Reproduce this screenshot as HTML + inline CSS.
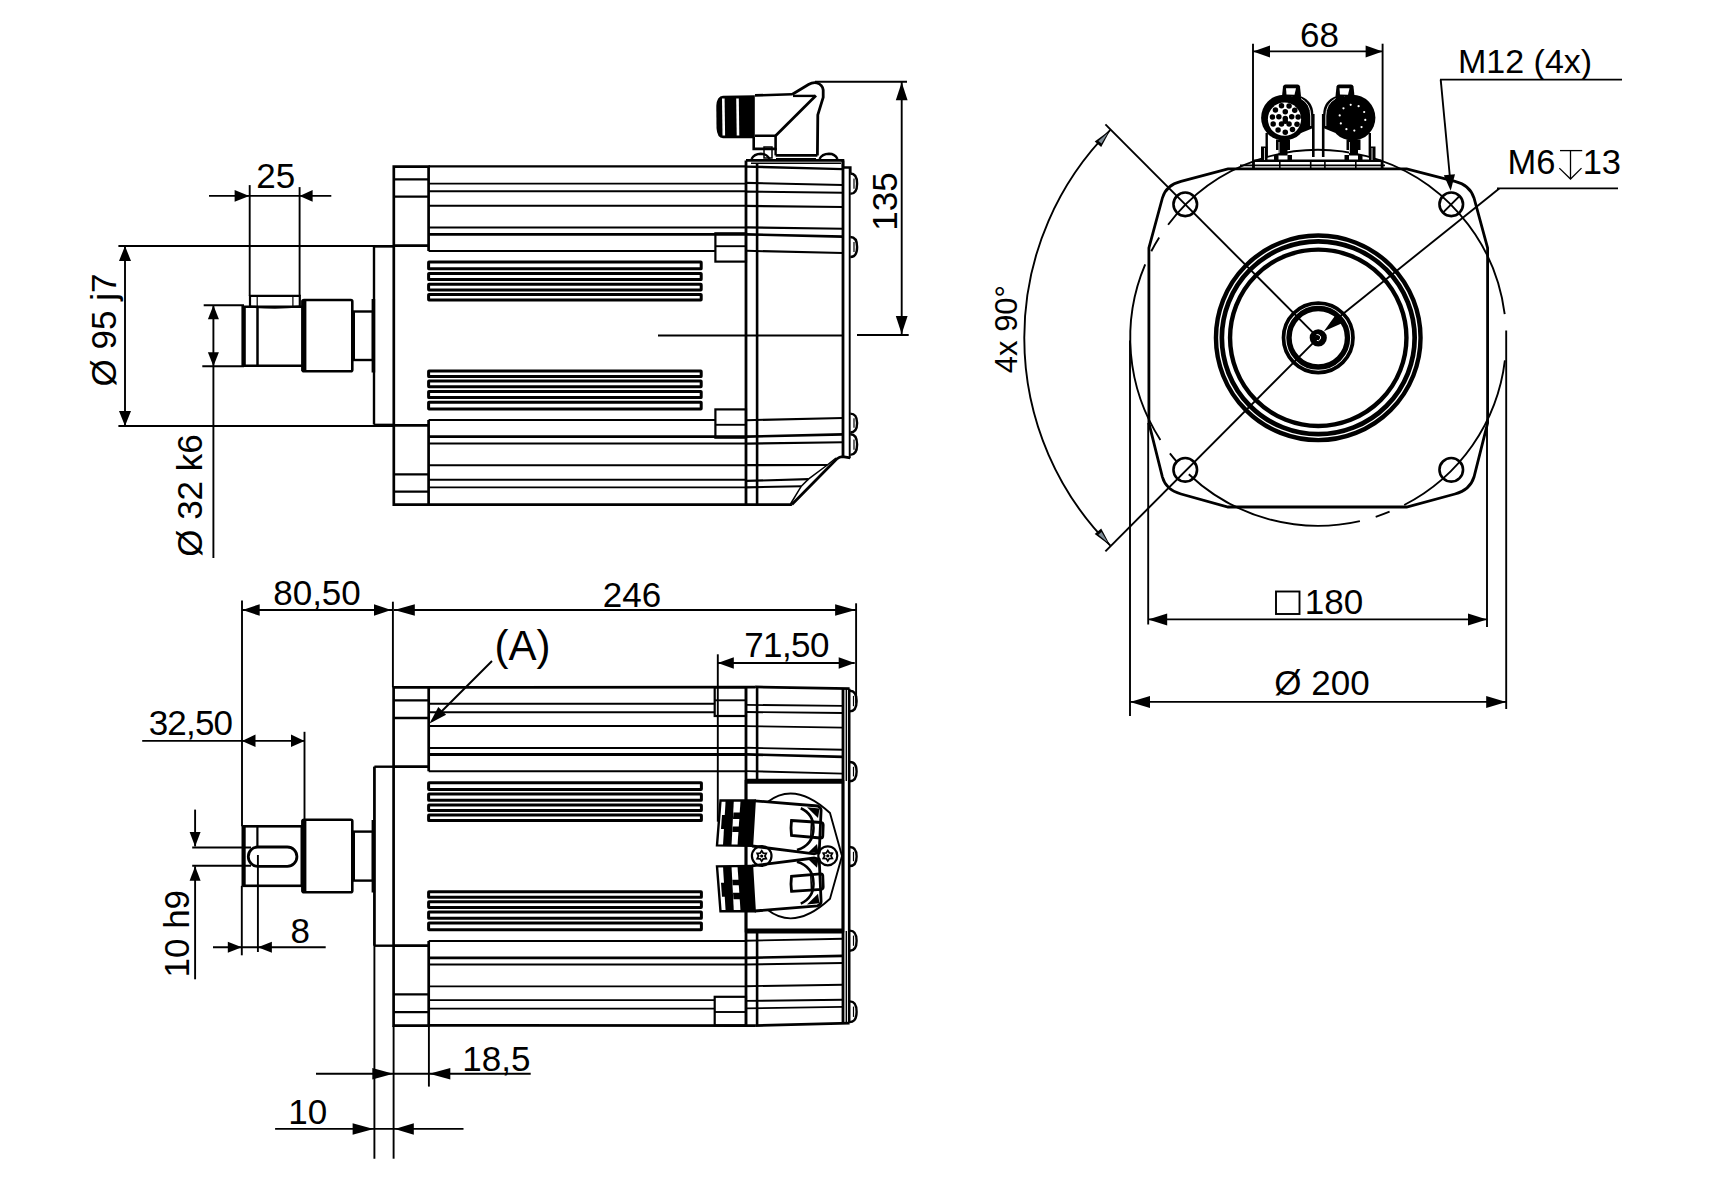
<!DOCTYPE html>
<html><head><meta charset="utf-8"><style>
html,body{margin:0;padding:0;background:#fff;width:1717px;height:1187px;overflow:hidden}
svg{display:block}
text{font-family:"Liberation Sans",sans-serif;fill:#000;stroke:none}
</style></head><body>
<svg width="1717" height="1187" viewBox="0 0 1717 1187" stroke="#000" fill="none" stroke-linecap="butt">
<polyline points="428.6,251.0 428.6,166.6 393.8,166.6 393.8,504.6 428.6,504.6 428.6,420.0" stroke-width="2.7" fill="none" />
<line x1="393.8" y1="179.3" x2="428.6" y2="179.3" stroke-width="2.3"/>
<line x1="393.8" y1="491.7" x2="428.6" y2="491.7" stroke-width="2.3"/>
<line x1="393.8" y1="196.7" x2="428.6" y2="196.7" stroke-width="2.3"/>
<line x1="393.8" y1="474.3" x2="428.6" y2="474.3" stroke-width="2.3"/>
<line x1="393.8" y1="245.6" x2="428.6" y2="245.6" stroke-width="2.8"/>
<line x1="393.8" y1="425.4" x2="428.6" y2="425.4" stroke-width="2.8"/>
<line x1="428.6" y1="166.4" x2="746.0" y2="166.4" stroke-width="2.4"/>
<line x1="428.6" y1="183.6" x2="746.0" y2="183.6" stroke-width="1.9"/>
<line x1="428.6" y1="487.4" x2="746.0" y2="487.4" stroke-width="1.9"/>
<line x1="428.6" y1="191.2" x2="746.0" y2="191.2" stroke-width="1.9"/>
<line x1="428.6" y1="479.8" x2="746.0" y2="479.8" stroke-width="1.9"/>
<line x1="428.6" y1="205.8" x2="746.0" y2="205.8" stroke-width="1.9"/>
<line x1="428.6" y1="465.2" x2="746.0" y2="465.2" stroke-width="1.9"/>
<line x1="428.6" y1="227.6" x2="746.0" y2="227.6" stroke-width="2.0"/>
<line x1="428.6" y1="443.4" x2="746.0" y2="443.4" stroke-width="2.0"/>
<line x1="428.6" y1="234.3" x2="746.0" y2="234.3" stroke-width="2.8"/>
<line x1="428.6" y1="436.7" x2="746.0" y2="436.7" stroke-width="2.8"/>
<line x1="428.6" y1="251.0" x2="715.4" y2="251.0" stroke-width="2.0"/>
<line x1="428.6" y1="420.0" x2="715.4" y2="420.0" stroke-width="2.0"/>
<line x1="428.6" y1="504.6" x2="791.9" y2="504.6" stroke-width="2.7"/>
<rect x="428.6" y="262.0" width="272.6" height="6.8" rx="0.4" stroke-width="3.0" fill="none" />
<rect x="428.6" y="402.2" width="272.6" height="6.8" rx="0.4" stroke-width="3.0" fill="none" />
<rect x="428.6" y="273.4" width="272.6" height="6.2" rx="0.4" stroke-width="3.0" fill="none" />
<rect x="428.6" y="391.4" width="272.6" height="6.2" rx="0.4" stroke-width="3.0" fill="none" />
<rect x="428.6" y="284.3" width="272.6" height="5.6" rx="0.4" stroke-width="3.0" fill="none" />
<rect x="428.6" y="381.1" width="272.6" height="5.6" rx="0.4" stroke-width="3.0" fill="none" />
<rect x="428.6" y="294.4" width="272.6" height="5.5" rx="0.4" stroke-width="3.0" fill="none" />
<rect x="428.6" y="371.1" width="272.6" height="5.5" rx="0.4" stroke-width="3.0" fill="none" />
<rect x="715.4" y="233.3" width="30.6" height="28.3" rx="0" stroke-width="2.2" fill="none" />
<line x1="715.4" y1="246.2" x2="746.0" y2="246.2" stroke-width="1.9"/>
<rect x="715.4" y="409.4" width="30.6" height="28.3" rx="0" stroke-width="2.2" fill="none" />
<line x1="715.4" y1="424.8" x2="746.0" y2="424.8" stroke-width="1.9"/>
<line x1="658.0" y1="335.5" x2="842.0" y2="335.5" stroke-width="1.9"/>
<line x1="746.0" y1="160.4" x2="746.0" y2="504.6" stroke-width="2.8"/>
<line x1="757.1" y1="163.0" x2="757.1" y2="504.6" stroke-width="2.6"/>
<line x1="843.0" y1="160.4" x2="843.0" y2="458.0" stroke-width="2.8"/>
<line x1="849.7" y1="167.5" x2="849.7" y2="458.0" stroke-width="1.9"/>
<polyline points="746.0,160.4 843.0,160.4 843.0,167.5 850.3,167.5 850.3,173.0" stroke-width="2.6" fill="none" />
<line x1="751.0" y1="163.3" x2="841.0" y2="163.3" stroke-width="1.4"/>
<line x1="746.0" y1="166.6" x2="843.0" y2="169.1" stroke-width="2.4"/>
<line x1="746.0" y1="182.9" x2="843.0" y2="185.0" stroke-width="2.1"/>
<line x1="746.0" y1="191.6" x2="843.0" y2="192.7" stroke-width="2.1"/>
<line x1="746.0" y1="205.9" x2="843.0" y2="207.0" stroke-width="2.1"/>
<line x1="746.0" y1="227.4" x2="843.0" y2="228.8" stroke-width="2.1"/>
<line x1="746.0" y1="234.4" x2="843.0" y2="236.6" stroke-width="2.6"/>
<line x1="746.0" y1="250.8" x2="843.0" y2="253.0" stroke-width="2.1"/>
<line x1="746.0" y1="420.2" x2="843.0" y2="418.0" stroke-width="2.1"/>
<line x1="746.0" y1="436.6" x2="843.0" y2="434.4" stroke-width="2.6"/>
<line x1="746.0" y1="443.6" x2="843.0" y2="442.2" stroke-width="2.1"/>
<line x1="746.0" y1="465.1" x2="827.3" y2="465.0" stroke-width="2.1"/>
<line x1="746.0" y1="480.9" x2="808.4" y2="479.1" stroke-width="2.1"/>
<line x1="746.0" y1="487.4" x2="801.3" y2="486.2" stroke-width="2.1"/>
<path d="M791.9,504.6 L836.7,459 Q839.5,456.7 842.6,456.7 L850.3,457.9" stroke-width="2.8" fill="none" />
<polyline points="790.5,504.0 801.3,486.2 808.4,479.1 827.3,465.0 836.0,458.0" stroke-width="1.5" fill="none" />
<path d="M850.3,173.5 C855.4,173.5 857.0999999999999,177.56 857.0999999999999,183.65 C857.0999999999999,189.74 855.4,193.8 850.3,193.8" stroke-width="2.4" fill="none" />
<line x1="854.0" y1="178.6" x2="854.0" y2="188.7" stroke-width="1.2"/>
<path d="M850.3,237 C855.4,237 857.0999999999999,241.0 857.0999999999999,247.0 C857.0999999999999,253.0 855.4,257 850.3,257" stroke-width="2.4" fill="none" />
<line x1="854.0" y1="242.0" x2="854.0" y2="252.0" stroke-width="1.2"/>
<path d="M850.3,413.6 C855.4,413.6 857.0999999999999,417.38 857.0999999999999,423.05 C857.0999999999999,428.72 855.4,432.5 850.3,432.5" stroke-width="2.4" fill="none" />
<line x1="854.0" y1="418.3" x2="854.0" y2="427.8" stroke-width="1.2"/>
<path d="M850.3,434.3 C855.4,434.3 857.0999999999999,438.42 857.0999999999999,444.6 C857.0999999999999,450.78 855.4,454.9 850.3,454.9" stroke-width="2.4" fill="none" />
<line x1="854.0" y1="439.4" x2="854.0" y2="449.8" stroke-width="1.2"/>
<path d="M723,95.7 L754.8,95.2 L754.8,138.2 L723,138.2 Q717,138 716.5,128 L716.3,106 Q716.8,95.9 723,95.7 Z" stroke-width="0" fill="#000" />
<line x1="723.3" y1="98.5" x2="723.8" y2="135.5" stroke="#fff" stroke-width="2.6"/>
<line x1="737.5" y1="98.5" x2="738" y2="135.5" stroke="#fff" stroke-width="2.6"/>
<line x1="755.0" y1="95.4" x2="792.0" y2="94.3" stroke-width="2.6"/>
<path d="M792,94.5 L808.5,84.5 Q813,82 817,83 Q822.5,84.6 823.2,90 L823.2,97.4 L817.8,114.9 L817.4,155.4" stroke-width="2.8" fill="none" />
<line x1="793.0" y1="95.9" x2="815.0" y2="95.9" stroke-width="2.4"/>
<line x1="816.0" y1="95.5" x2="775.6" y2="135.7" stroke-width="2.8"/>
<polyline points="754.8,135.7 775.6,135.7 775.6,148.9 753.7,148.9 753.7,137.0" stroke-width="2.6" fill="none" />
<line x1="775.6" y1="148.0" x2="775.6" y2="155.4" stroke-width="2.4"/>
<line x1="775.6" y1="155.4" x2="817.4" y2="155.4" stroke-width="2.6"/>
<line x1="776.0" y1="158.7" x2="816.0" y2="158.7" stroke-width="1.5"/>
<path d="M751.5,159 Q754,154 761,153.8 Q767,153.8 769.5,159" stroke-width="2.4" fill="none" />
<path d="M819.5,159 Q822,154 829,153.8 Q835,153.8 837.5,159" stroke-width="2.4" fill="none" />
<rect x="764.0" y="147.0" width="8.0" height="11.0" rx="0" stroke-width="1.5" fill="none" />
<line x1="374.0" y1="246.7" x2="374.0" y2="424.6" stroke-width="2.4"/>
<line x1="373.4" y1="299.0" x2="373.4" y2="372.5" stroke-width="3.6"/>
<line x1="374.0" y1="246.7" x2="393.8" y2="246.7" stroke-width="1.9"/>
<line x1="374.0" y1="424.6" x2="393.8" y2="424.6" stroke-width="1.9"/>
<rect x="353.8" y="311.5" width="19.2" height="48.5" rx="0" stroke-width="2.4" fill="none" />
<rect x="302.5" y="300.0" width="49.8" height="71.3" rx="1.5" stroke-width="2.6" fill="none" />
<line x1="303.9" y1="300.5" x2="303.9" y2="371.0" stroke-width="5"/>
<line x1="243.6" y1="306.8" x2="302.0" y2="306.8" stroke-width="2.4"/>
<line x1="243.6" y1="365.7" x2="302.0" y2="365.7" stroke-width="2.4"/>
<line x1="243.6" y1="306.0" x2="243.6" y2="366.5" stroke-width="4.4"/>
<line x1="257.5" y1="306.8" x2="257.5" y2="365.7" stroke-width="2.5"/>
<polyline points="250.0,306.0 250.0,295.9 299.8,295.9 299.8,306.0" stroke-width="2.2" fill="none" />
<line x1="257.2" y1="295.9" x2="257.2" y2="306.0" stroke-width="1.2"/>
<line x1="292.9" y1="295.9" x2="292.9" y2="306.0" stroke-width="1.2"/>
<path d="M250,306.5 Q275,308.6 299.8,306.5" stroke-width="2.2" fill="none" />
<line x1="209.0" y1="195.9" x2="331.3" y2="195.9" stroke-width="1.9"/>
<polygon points="249.3,195.9 234.6,201.8 234.6,190.0" fill="#000" stroke="none"/>
<polygon points="299.6,195.9 312.6,190.0 312.6,201.8" fill="#000" stroke="none"/>
<line x1="249.7" y1="185.1" x2="249.7" y2="296.0" stroke-width="1.9"/>
<line x1="299.6" y1="187.1" x2="299.6" y2="296.0" stroke-width="1.9"/>
<text x="275.8" y="187.9" font-size="35" text-anchor="middle" >25</text>
<line x1="118.4" y1="246.0" x2="394.0" y2="246.0" stroke-width="1.9"/>
<line x1="118.4" y1="426.0" x2="394.0" y2="426.0" stroke-width="1.9"/>
<line x1="125.0" y1="246.0" x2="125.0" y2="426.0" stroke-width="1.9"/>
<polygon points="125.0,246.0 131.0,261.0 119.0,261.0" fill="#000" stroke="none"/>
<polygon points="125.0,426.0 119.0,411.0 131.0,411.0" fill="#000" stroke="none"/>
<text x="115.5" y="330.0" font-size="35" text-anchor="middle" transform="rotate(-90 115.5 330.0)" >Ø 95 j7</text>
<line x1="203.7" y1="305.3" x2="244.0" y2="305.3" stroke-width="1.9"/>
<line x1="202.3" y1="366.2" x2="244.0" y2="366.2" stroke-width="1.9"/>
<line x1="213.4" y1="305.3" x2="213.4" y2="558.0" stroke-width="1.9"/>
<polygon points="213.4,305.3 218.9,319.3 207.9,319.3" fill="#000" stroke="none"/>
<polygon points="213.4,366.2 207.9,352.2 218.9,352.2" fill="#000" stroke="none"/>
<text x="201.5" y="495.5" font-size="35" text-anchor="middle" transform="rotate(-90 201.5 495.5)" >Ø 32 k6</text>
<line x1="815.0" y1="81.7" x2="907.0" y2="81.7" stroke-width="1.9"/>
<line x1="857.0" y1="335.0" x2="908.7" y2="335.0" stroke-width="1.9"/>
<line x1="901.7" y1="81.5" x2="901.7" y2="335.0" stroke-width="1.9"/>
<polygon points="901.7,82.2 907.6,100.2 895.8,100.2" fill="#000" stroke="none"/>
<polygon points="901.7,334.0 895.8,316.0 907.6,316.0" fill="#000" stroke="none"/>
<text x="896.5" y="201.5" font-size="35" text-anchor="middle" transform="rotate(-90 896.5 201.5)" >135</text>
<polyline points="428.7,771.3 428.7,687.4 393.6,687.4 393.6,1025.6 428.7,1025.6 428.7,941.1" stroke-width="2.7" fill="none" />
<line x1="393.6" y1="700.3" x2="428.7" y2="700.3" stroke-width="2.3"/>
<line x1="393.6" y1="1012.1" x2="428.7" y2="1012.1" stroke-width="2.3"/>
<line x1="393.6" y1="718.0" x2="428.7" y2="718.0" stroke-width="2.3"/>
<line x1="393.6" y1="994.4" x2="428.7" y2="994.4" stroke-width="2.3"/>
<line x1="393.6" y1="766.7" x2="428.7" y2="766.7" stroke-width="2.8"/>
<line x1="393.6" y1="945.7" x2="428.7" y2="945.7" stroke-width="2.8"/>
<line x1="428.7" y1="687.4" x2="755.1" y2="687.2" stroke-width="2.7"/>
<line x1="755.1" y1="686.9" x2="849.6" y2="688.7" stroke-width="2.7"/>
<line x1="428.7" y1="1025.4" x2="755.1" y2="1025.6" stroke-width="2.7"/>
<line x1="755.1" y1="1025.6" x2="849.6" y2="1023.1" stroke-width="2.7"/>
<line x1="428.7" y1="703.8" x2="714.7" y2="703.8" stroke-width="1.9"/>
<line x1="428.7" y1="1008.6" x2="714.7" y2="1008.6" stroke-width="1.9"/>
<line x1="428.7" y1="712.3" x2="714.7" y2="712.3" stroke-width="1.9"/>
<line x1="428.7" y1="1000.1" x2="714.7" y2="1000.1" stroke-width="1.9"/>
<line x1="428.7" y1="726.0" x2="746.0" y2="726.0" stroke-width="1.9"/>
<line x1="428.7" y1="986.4" x2="746.0" y2="986.4" stroke-width="1.9"/>
<line x1="428.7" y1="748.0" x2="746.0" y2="748.0" stroke-width="2.0"/>
<line x1="428.7" y1="964.4" x2="746.0" y2="964.4" stroke-width="2.0"/>
<line x1="428.7" y1="754.5" x2="746.0" y2="754.5" stroke-width="2.8"/>
<line x1="428.7" y1="957.9" x2="746.0" y2="957.9" stroke-width="2.8"/>
<line x1="428.7" y1="771.3" x2="746.0" y2="771.3" stroke-width="2.0"/>
<line x1="428.7" y1="941.1" x2="746.0" y2="941.1" stroke-width="2.0"/>
<rect x="428.6" y="782.7" width="272.8" height="6.8" rx="0.4" stroke-width="3.0" fill="none" />
<rect x="428.6" y="922.9" width="272.8" height="6.8" rx="0.4" stroke-width="3.0" fill="none" />
<rect x="428.6" y="794.1" width="272.8" height="6.2" rx="0.4" stroke-width="3.0" fill="none" />
<rect x="428.6" y="912.1" width="272.8" height="6.2" rx="0.4" stroke-width="3.0" fill="none" />
<rect x="428.6" y="805.0" width="272.8" height="5.6" rx="0.4" stroke-width="3.0" fill="none" />
<rect x="428.6" y="901.8" width="272.8" height="5.6" rx="0.4" stroke-width="3.0" fill="none" />
<rect x="428.6" y="815.1" width="272.8" height="5.5" rx="0.4" stroke-width="3.0" fill="none" />
<rect x="428.6" y="891.8" width="272.8" height="5.5" rx="0.4" stroke-width="3.0" fill="none" />
<rect x="714.7" y="687.4" width="31.3" height="28.6" rx="0" stroke-width="2.2" fill="none" />
<line x1="714.7" y1="700.3" x2="746.0" y2="700.3" stroke-width="1.9"/>
<rect x="714.7" y="996.8" width="31.3" height="28.6" rx="0" stroke-width="2.2" fill="none" />
<line x1="714.7" y1="1012.0" x2="746.0" y2="1012.0" stroke-width="1.9"/>
<line x1="746.0" y1="687.0" x2="746.0" y2="1025.6" stroke-width="2.8"/>
<line x1="757.1" y1="687.0" x2="757.1" y2="781.0" stroke-width="2.6"/>
<line x1="757.1" y1="931.0" x2="757.1" y2="1025.6" stroke-width="2.6"/>
<line x1="843.0" y1="688.5" x2="843.0" y2="1023.3" stroke-width="2.8"/>
<line x1="846.3" y1="688.5" x2="846.3" y2="781.0" stroke-width="1.4"/>
<line x1="846.3" y1="931.0" x2="846.3" y2="1023.3" stroke-width="1.4"/>
<line x1="849.2" y1="688.7" x2="849.2" y2="1023.0" stroke-width="2.6"/>
<line x1="746.0" y1="704.9" x2="843.0" y2="705.9" stroke-width="1.9"/>
<line x1="746.0" y1="712.0" x2="843.0" y2="713.0" stroke-width="1.9"/>
<line x1="746.0" y1="726.1" x2="843.0" y2="727.6" stroke-width="1.9"/>
<line x1="746.0" y1="747.8" x2="843.0" y2="749.8" stroke-width="1.9"/>
<line x1="746.0" y1="754.4" x2="843.0" y2="756.9" stroke-width="2.6"/>
<line x1="746.0" y1="771.1" x2="843.0" y2="773.6" stroke-width="1.9"/>
<line x1="746.0" y1="940.7" x2="843.0" y2="938.7" stroke-width="1.9"/>
<line x1="746.0" y1="957.9" x2="843.0" y2="955.9" stroke-width="2.6"/>
<line x1="746.0" y1="964.5" x2="843.0" y2="963.0" stroke-width="1.9"/>
<line x1="746.0" y1="986.2" x2="843.0" y2="984.7" stroke-width="1.9"/>
<line x1="746.0" y1="1000.9" x2="843.0" y2="999.8" stroke-width="1.9"/>
<line x1="746.0" y1="1008.4" x2="843.0" y2="1006.9" stroke-width="1.9"/>
<rect x="746.0" y="781.2" width="97.0" height="149.9" rx="0" stroke-width="2.6" fill="none" />
<line x1="746.0" y1="781.2" x2="843.0" y2="781.2" stroke-width="5"/>
<line x1="746.0" y1="931.1" x2="843.0" y2="931.1" stroke-width="5"/>
<path d="M849.8,690.7 C854.9,690.7 856.5999999999999,694.84 856.5999999999999,701.05 C856.5999999999999,707.26 854.9,711.4 849.8,711.4" stroke-width="2.4" fill="none" />
<line x1="853.5" y1="695.9" x2="853.5" y2="706.2" stroke-width="1.2"/>
<path d="M849.8,762 C854.9,762 856.5999999999999,765.84 856.5999999999999,771.6 C856.5999999999999,777.36 854.9,781.2 849.8,781.2" stroke-width="2.4" fill="none" />
<line x1="853.5" y1="766.8" x2="853.5" y2="776.4" stroke-width="1.2"/>
<path d="M849.8,847 C854.9,847 856.5999999999999,850.8 856.5999999999999,856.5 C856.5999999999999,862.2 854.9,866 849.8,866" stroke-width="2.4" fill="none" />
<line x1="853.5" y1="851.8" x2="853.5" y2="861.2" stroke-width="1.2"/>
<path d="M849.8,930.6 C854.9,930.6 856.5999999999999,934.64 856.5999999999999,940.7 C856.5999999999999,946.76 854.9,950.8 849.8,950.8" stroke-width="2.4" fill="none" />
<line x1="853.5" y1="935.6" x2="853.5" y2="945.8" stroke-width="1.2"/>
<path d="M849.8,1001.4 C854.9,1001.4 856.5999999999999,1005.54 856.5999999999999,1011.75 C856.5999999999999,1017.96 854.9,1022.1 849.8,1022.1" stroke-width="2.4" fill="none" />
<line x1="853.5" y1="1006.6" x2="853.5" y2="1016.9" stroke-width="1.2"/>
<line x1="374.4" y1="766.7" x2="374.4" y2="1158.7" stroke-width="1.9"/>
<line x1="374.4" y1="766.7" x2="393.6" y2="766.7" stroke-width="2.4"/>
<line x1="374.4" y1="945.7" x2="393.6" y2="945.7" stroke-width="2.4"/>
<line x1="374.4" y1="766.7" x2="374.4" y2="945.7" stroke-width="2.6"/>
<line x1="393.6" y1="1025.6" x2="393.6" y2="1158.7" stroke-width="1.9"/>
<line x1="373.4" y1="820.0" x2="373.4" y2="892.5" stroke-width="3.6"/>
<rect x="353.8" y="831.6" width="19.2" height="49.0" rx="0" stroke-width="2.4" fill="none" />
<rect x="302.5" y="819.8" width="49.8" height="72.4" rx="1.5" stroke-width="2.6" fill="none" />
<line x1="303.9" y1="820.3" x2="303.9" y2="891.7" stroke-width="5"/>
<rect x="243.6" y="826.3" width="58.2" height="59.5" rx="0" stroke-width="2.6" fill="none" />
<line x1="243.6" y1="825.8" x2="243.6" y2="886.3" stroke-width="4.2"/>
<line x1="257.4" y1="826.3" x2="257.4" y2="847.0" stroke-width="2.2"/>
<rect x="248.3" y="847.0" width="48.6" height="19.3" rx="9.6" stroke-width="2.8" fill="none" />
<path d="M767.5,802 Q795,780.5 830,813 L842,855.9 L830,898.8 Q795,931.3 767.5,909.8" stroke-width="1.9" fill="none" />
<polygon points="720.5,800.5 754.7,800.5 752.0,845.9 717.0,845.4" stroke-width="2.4" fill="none" />
<polygon points="725.6,800.8 733.8,801.0 731.5,845.8 723.0,845.6" stroke-width="0" fill="#000" />
<polygon points="740.5,801.0 755.0,801.0 752.2,846.0 737.5,845.8" stroke-width="0" fill="#000" />
<polygon points="722.0,815.0 729.0,815.0 728.0,829.0 721.0,829.0" stroke-width="0" fill="#000" />
<polygon points="733.5,812.5 740.5,812.5 740.0,819.0 733.0,819.0" stroke-width="0" fill="#000" />
<polygon points="732.7,826.5 740.0,826.5 739.5,832.0 732.3,832.0" stroke-width="0" fill="#000" />
<path d="M754.7,800.8 L817.6,806.0 Q821.3,807.5 821.1,810.5 L819.2,852.5 L814.1,853.8 L752,846.0" stroke-width="2.8" fill="none" />
<path d="M800.8,808.2 Q813.5,814.0 813.5,828.0 Q813.5,845.0 797,850.0" stroke-width="2.6" fill="none" />
<polygon points="807.0,807.2 819.5,808.5 818.0,818.0" stroke-width="0" fill="#000" />
<polygon points="808.0,852.8 818.5,852.5 817.0,844.0" stroke-width="0" fill="#000" />
<path d="M791.5,820.5 L821.5,822.5 Q823.2,823.0 823.2,825.0 L822.8,836.0 Q822.5,838.2 820.5,838.0 L791.5,835.5 Q790.5,828.0 791.5,820.5 Z" stroke-width="2.8" fill="none" />
<line x1="811.5" y1="822.0" x2="810.8" y2="837.0" stroke-width="1.6"/>
<polygon points="720.5,911.3 754.7,911.3 752.0,865.9 717.0,866.4" stroke-width="2.4" fill="none" />
<polygon points="725.6,911.0 733.8,910.8 731.5,866.0 723.0,866.2" stroke-width="0" fill="#000" />
<polygon points="740.5,910.8 755.0,910.8 752.2,865.8 737.5,866.0" stroke-width="0" fill="#000" />
<polygon points="722.0,896.8 729.0,896.8 728.0,882.8 721.0,882.8" stroke-width="0" fill="#000" />
<polygon points="733.5,899.3 740.5,899.3 740.0,892.8 733.0,892.8" stroke-width="0" fill="#000" />
<polygon points="732.7,885.3 740.0,885.3 739.5,879.8 732.3,879.8" stroke-width="0" fill="#000" />
<path d="M754.7,911.0 L817.6,905.8 Q821.3,904.3 821.1,901.3 L819.2,859.3 L814.1,858.0 L752,865.8" stroke-width="2.8" fill="none" />
<path d="M800.8,903.5999999999999 Q813.5,897.8 813.5,883.8 Q813.5,866.8 797,861.8" stroke-width="2.6" fill="none" />
<polygon points="807.0,904.6 819.5,903.3 818.0,893.8" stroke-width="0" fill="#000" />
<polygon points="808.0,859.0 818.5,859.3 817.0,867.8" stroke-width="0" fill="#000" />
<path d="M791.5,891.3 L821.5,889.3 Q823.2,888.8 823.2,886.8 L822.8,875.8 Q822.5,873.5999999999999 820.5,873.8 L791.5,876.3 Q790.5,883.8 791.5,891.3 Z" stroke-width="2.8" fill="none" />
<line x1="811.5" y1="889.8" x2="810.8" y2="874.8" stroke-width="1.6"/>
<circle cx="761.70" cy="856.00" r="9.80" stroke-width="2.2" fill="none" />
<polygon points="761.7,850.8 763.3,853.2 766.2,853.4 764.9,856.0 766.2,858.6 763.3,858.8 761.7,861.2 760.1,858.8 757.2,858.6 758.5,856.0 757.2,853.4 760.1,853.2" stroke-width="1.8" fill="none" />
<circle cx="761.70" cy="856.00" r="1.60" stroke-width="0" fill="#000" />
<circle cx="827.80" cy="855.80" r="9.50" stroke-width="2.2" fill="none" />
<polygon points="827.8,850.6 829.4,853.0 832.3,853.2 831.0,855.8 832.3,858.4 829.4,858.6 827.8,861.0 826.2,858.6 823.3,858.4 824.6,855.8 823.3,853.2 826.2,853.0" stroke-width="1.8" fill="none" />
<circle cx="827.80" cy="855.80" r="1.60" stroke-width="0" fill="#000" />
<line x1="242.0" y1="600.4" x2="242.0" y2="826.3" stroke-width="1.9"/>
<line x1="392.9" y1="601.7" x2="392.9" y2="687.4" stroke-width="1.9"/>
<line x1="242.0" y1="610.0" x2="392.9" y2="610.0" stroke-width="1.9"/>
<polygon points="242.5,610.0 259.7,604.2 259.7,615.8" fill="#000" stroke="none"/>
<polygon points="391.2,610.0 374.0,615.8 374.0,604.2" fill="#000" stroke="none"/>
<text x="317.0" y="605.4" font-size="35" text-anchor="middle" >80,50</text>
<line x1="394.0" y1="610.0" x2="856.1" y2="610.0" stroke-width="1.9"/>
<polygon points="394.3,610.0 414.8,604.2 414.8,615.8" fill="#000" stroke="none"/>
<polygon points="855.6,610.0 835.1,615.8 835.1,604.2" fill="#000" stroke="none"/>
<line x1="856.1" y1="603.3" x2="856.1" y2="703.4" stroke-width="1.9"/>
<text x="632.0" y="607.0" font-size="35" text-anchor="middle" >246</text>
<line x1="717.8" y1="663.0" x2="854.7" y2="663.0" stroke-width="1.9"/>
<polygon points="717.8,663.0 733.8,657.2 733.8,668.8" fill="#000" stroke="none"/>
<polygon points="854.7,663.0 838.7,668.8 838.7,657.2" fill="#000" stroke="none"/>
<line x1="717.8" y1="654.3" x2="717.8" y2="821.7" stroke-width="1.9"/>
<text x="786.5" y="656.5" font-size="35" text-anchor="middle" letter-spacing="-0.6">71,50</text>
<text x="522.5" y="659.8" font-size="42" text-anchor="middle" >(A)</text>
<line x1="492.0" y1="661.0" x2="432.0" y2="721.0" stroke-width="1.9"/>
<polygon points="429.5,723.5 438.3,706.9 446.1,714.7" fill="#000" stroke="none"/>
<line x1="142.2" y1="740.9" x2="304.5" y2="740.9" stroke-width="1.9"/>
<polygon points="242.0,740.9 255.5,734.6 255.5,747.1" fill="#000" stroke="none"/>
<polygon points="304.5,740.9 291.0,747.1 291.0,734.6" fill="#000" stroke="none"/>
<line x1="304.5" y1="731.8" x2="304.5" y2="819.8" stroke-width="1.9"/>
<text x="190.5" y="734.5" font-size="35" text-anchor="middle" letter-spacing="-0.8">32,50</text>
<line x1="195.1" y1="809.6" x2="195.1" y2="846.4" stroke-width="1.9"/>
<polygon points="195.1,846.4 189.6,832.0 200.6,832.0" fill="#000" stroke="none"/>
<line x1="195.1" y1="866.3" x2="195.1" y2="979.3" stroke-width="1.9"/>
<polygon points="195.1,866.3 200.6,880.7 189.6,880.7" fill="#000" stroke="none"/>
<line x1="192.2" y1="847.5" x2="251.0" y2="847.5" stroke-width="1.9"/>
<line x1="192.2" y1="865.8" x2="251.0" y2="865.8" stroke-width="1.9"/>
<text x="189.5" y="933.7" font-size="35" text-anchor="middle" transform="rotate(-90 189.5 933.7)" >10 h9</text>
<line x1="213.0" y1="947.3" x2="325.7" y2="947.3" stroke-width="1.9"/>
<polygon points="241.8,947.3 227.8,952.8 227.8,941.8" fill="#000" stroke="none"/>
<polygon points="257.9,947.3 271.9,941.8 271.9,952.8" fill="#000" stroke="none"/>
<line x1="241.8" y1="885.8" x2="241.8" y2="955.3" stroke-width="1.9"/>
<line x1="257.9" y1="855.0" x2="257.9" y2="952.0" stroke-width="1.9"/>
<text x="300.2" y="942.5" font-size="35" text-anchor="middle" >8</text>
<line x1="316.0" y1="1073.8" x2="530.7" y2="1073.8" stroke-width="1.9"/>
<polygon points="393.3,1073.8 372.3,1079.6 372.3,1068.0" fill="#000" stroke="none"/>
<polygon points="429.3,1073.8 450.3,1068.0 450.3,1079.6" fill="#000" stroke="none"/>
<line x1="428.9" y1="1025.6" x2="428.9" y2="1086.6" stroke-width="1.9"/>
<text x="496.3" y="1070.6" font-size="35" text-anchor="middle" >18,5</text>
<line x1="275.1" y1="1128.9" x2="463.5" y2="1128.9" stroke-width="1.9"/>
<polygon points="373.6,1128.9 352.6,1134.7 352.6,1123.2" fill="#000" stroke="none"/>
<polygon points="394.8,1128.9 413.8,1123.2 413.8,1134.7" fill="#000" stroke="none"/>
<text x="307.8" y="1123.5" font-size="35" text-anchor="middle" >10</text>
<path d="M1228,168.8 L1406.7,168.8 L1455,181.3 Q1470,185 1474,198 L1487.6,248 L1487.6,423 L1474,477 Q1470,490 1455,494 L1406.7,507 L1228,507 L1181,494 Q1166,490 1162.4,477 L1148.9,423 L1148.9,248 L1162.4,198 Q1166,185 1181,181.3 Z" stroke-width="2.8" fill="none" />
<circle cx="1185.25" cy="204.30" r="11.80" stroke-width="2.6" fill="none" />
<circle cx="1185.25" cy="469.80" r="11.80" stroke-width="2.6" fill="none" />
<circle cx="1451.25" cy="204.30" r="11.80" stroke-width="2.6" fill="none" />
<circle cx="1451.25" cy="469.80" r="11.80" stroke-width="2.6" fill="none" />
<circle cx="1318.25" cy="337.80" r="102.30" stroke-width="4.4" fill="none" />
<circle cx="1318.25" cy="337.80" r="96.40" stroke-width="4.7" fill="none" />
<circle cx="1318.25" cy="337.80" r="88.20" stroke-width="4.4" fill="none" />
<circle cx="1318.25" cy="337.80" r="34.75" stroke-width="3.7" fill="none" />
<circle cx="1318.25" cy="337.80" r="29.25" stroke-width="5.4" fill="none" />
<circle cx="1318.25" cy="337.80" r="8.60" stroke-width="0" fill="#000" />
<path d="M1315.25,335.8 A3,3 0 1 1 1316.25,340.3" stroke-width="1.0" fill="none" stroke="#fff"/>
<path d="M1504.9,360.4 A188,188 0 0 1 1404.2,505.0" stroke-width="1.9" fill="none" />
<path d="M1389.6,511.7 A188,188 0 0 1 1375.7,516.8" stroke-width="1.9" fill="none" />
<path d="M1359.9,521.1 A188,188 0 0 1 1188.8,474.2" stroke-width="1.9" fill="none" />
<path d="M1177.4,462.4 A188,188 0 0 1 1169.9,453.3" stroke-width="1.9" fill="none" />
<path d="M1160.4,439.9 A188,188 0 0 1 1145.2,264.3" stroke-width="1.9" fill="none" />
<path d="M1151.3,251.3 A188,188 0 0 1 1159.2,237.6" stroke-width="1.9" fill="none" />
<path d="M1168.1,224.7 A188,188 0 0 1 1504.7,314.1" stroke-width="1.9" fill="none" />
<line x1="1105.4" y1="124.3" x2="1318.2" y2="337.8" stroke-width="1.9"/>
<line x1="1105.4" y1="551.3" x2="1318.2" y2="337.8" stroke-width="1.9"/>
<line x1="1499.3" y1="188.4" x2="1331.0" y2="323.5" stroke-width="1.9"/>
<line x1="1497.0" y1="188.4" x2="1618.0" y2="188.4" stroke-width="1.9"/>
<polygon points="1323.9,331.3 1337.2,312.8 1344.8,322.1" fill="#000" stroke="none"/>
<path d="M1110.4,129.9 A294,294 0 0 0 1110.4,545.7" stroke-width="1.9" fill="none" />
<polygon points="1110.4,129.9 1101.2,147.1 1094.7,141.5" fill="#000" stroke="none"/>
<polygon points="1107.8,133.1 1101.5,143.5 1098.4,140.9" fill="#7d8b96" stroke="none"/>
<polygon points="1110.4,545.7 1094.7,534.1 1101.2,528.5" fill="#000" stroke="none"/>
<polygon points="1107.8,542.5 1098.4,534.7 1101.5,532.1" fill="#7d8b96" stroke="none"/>
<text x="1017.0" y="329.1" font-size="31" text-anchor="middle" transform="rotate(-90 1017.0 329.1)" >4x 90°</text>
<line x1="1440.0" y1="79.6" x2="1622.0" y2="79.6" stroke-width="1.9"/>
<line x1="1440.7" y1="79.6" x2="1450.0" y2="178.0" stroke-width="1.9"/>
<polygon points="1450.7,190.7 1443.8,175.2 1455.0,174.3" fill="#000" stroke="none"/>
<line x1="1443.2" y1="212.3" x2="1459.2" y2="196.3" stroke-width="1.9"/>
<text x="1458.0" y="72.5" font-size="34" text-anchor="start" >M12 (4x)</text>
<text x="1507.5" y="173.5" font-size="34.5" text-anchor="start" >M6</text>
<text x="1621.0" y="173.5" font-size="34.5" text-anchor="end" >13</text>
<line x1="1560.0" y1="150.6" x2="1582.2" y2="150.6" stroke-width="1.3"/>
<line x1="1570.5" y1="150.6" x2="1570.5" y2="179.0" stroke-width="1.3"/>
<polyline points="1559.3,168.1 1570.5,179.0 1581.5,168.1" stroke-width="1.3" fill="none" />
<line x1="1253.0" y1="43.7" x2="1253.0" y2="168.0" stroke-width="1.9"/>
<line x1="1382.6" y1="43.7" x2="1382.6" y2="168.0" stroke-width="1.9"/>
<line x1="1253.0" y1="51.4" x2="1382.6" y2="51.4" stroke-width="1.9"/>
<polygon points="1253.0,51.4 1270.0,45.4 1270.0,57.4" fill="#000" stroke="none"/>
<polygon points="1382.6,51.4 1365.6,57.4 1365.6,45.4" fill="#000" stroke="none"/>
<text x="1319.5" y="46.8" font-size="35" text-anchor="middle" >68</text>
<line x1="1148.2" y1="423.0" x2="1148.2" y2="624.5" stroke-width="1.9"/>
<line x1="1487.0" y1="423.0" x2="1487.0" y2="627.0" stroke-width="1.9"/>
<line x1="1148.2" y1="619.4" x2="1487.0" y2="619.4" stroke-width="1.9"/>
<polygon points="1148.2,619.4 1167.2,613.4 1167.2,625.4" fill="#000" stroke="none"/>
<polygon points="1487.0,619.4 1468.0,625.4 1468.0,613.4" fill="#000" stroke="none"/>
<rect x="1276.0" y="591.5" width="23.5" height="22.5" rx="0" stroke-width="1.9" fill="none" />
<text x="1304.8" y="614.3" font-size="35" text-anchor="start" >180</text>
<line x1="1130.0" y1="340.6" x2="1130.0" y2="716.0" stroke-width="1.9"/>
<line x1="1506.2" y1="330.4" x2="1506.2" y2="709.0" stroke-width="1.9"/>
<line x1="1130.0" y1="701.9" x2="1506.2" y2="701.9" stroke-width="1.9"/>
<polygon points="1130.0,701.9 1150.0,695.9 1150.0,707.9" fill="#000" stroke="none"/>
<polygon points="1506.2,701.9 1486.2,707.9 1486.2,695.9" fill="#000" stroke="none"/>
<text x="1322.0" y="695.0" font-size="35" text-anchor="middle" >Ø 200</text>
<line x1="1254.0" y1="160.7" x2="1381.5" y2="160.7" stroke-width="2.6"/>
<line x1="1240.0" y1="165.4" x2="1385.0" y2="165.4" stroke-width="1.6"/>
<line x1="1254.1" y1="160.7" x2="1254.1" y2="168.8" stroke-width="1.6"/>
<line x1="1279.8" y1="160.7" x2="1279.8" y2="168.8" stroke-width="1.6"/>
<line x1="1310.7" y1="160.7" x2="1310.7" y2="168.8" stroke-width="1.6"/>
<line x1="1324.9" y1="160.7" x2="1324.9" y2="168.8" stroke-width="1.6"/>
<line x1="1355.8" y1="160.7" x2="1355.8" y2="168.8" stroke-width="1.6"/>
<line x1="1381.5" y1="160.7" x2="1381.5" y2="168.8" stroke-width="1.6"/>
<circle cx="1284.00" cy="117.70" r="22.90" stroke-width="0" fill="#000" />
<path d="M1292,95.5 L1300.4,95.9 Q1313.3,101 1313.3,114 L1313.3,128 L1301,133 Z" stroke-width="0" fill="#000" />
<line x1="1313.3" y1="114.0" x2="1313.3" y2="157.0" stroke-width="2.6"/>
<path d="M1301,98.5 Q1310.7,104 1310.7,116 L1310.7,126" stroke-width="0.9" fill="none" stroke="#fff"/>
<line x1="1266.7" y1="133.0" x2="1266.7" y2="157.0" stroke-width="2.4"/>
<path d="M1282.0,96.3 L1283.0,86.5 Q1283.5,84.5 1285.5,84.5 L1297.5,84.5 Q1299.5,84.5 1300.0,86.5 L1301.0,96.3 Z" stroke-width="0" fill="#000" />
<polygon points="1286.0,88.3 1296.0,88.3 1294.5,94.8 1286.5,94.4" stroke-width="0" fill="#fff" />
<rect x="1276.0" y="139.5" width="14.0" height="10.5" rx="0" stroke-width="0" fill="#000" />
<rect x="1278.5" y="149.0" width="9.0" height="6.5" rx="0" stroke-width="0" fill="#000" />
<rect x="1274.0" y="155.0" width="4.5" height="6.0" rx="0" stroke-width="0" fill="#000" />
<rect x="1287.5" y="155.0" width="4.5" height="6.0" rx="0" stroke-width="0" fill="#000" />
<line x1="1279" y1="142" x2="1279" y2="153" stroke="#fff" stroke-width="0.8"/>
<rect x="1261.0" y="146.5" width="6.5" height="15.0" rx="0" stroke-width="0" fill="#000" />
<line x1="1264.5" y1="148" x2="1264.5" y2="160" stroke="#fff" stroke-width="0.8"/>
<circle cx="1352.50" cy="117.70" r="22.90" stroke-width="0" fill="#000" />
<path d="M1344.5,95.5 L1336.1,95.9 Q1323.2,101 1323.2,114 L1323.2,128 L1335.5,133 Z" stroke-width="0" fill="#000" />
<line x1="1323.2" y1="114.0" x2="1323.2" y2="157.0" stroke-width="2.6"/>
<path d="M1335.5,98.5 Q1325.8,104 1325.8,116 L1325.8,126" stroke-width="0.9" fill="none" stroke="#fff"/>
<line x1="1369.8" y1="133.0" x2="1369.8" y2="157.0" stroke-width="2.4"/>
<path d="M1335.5,96.3 L1336.5,86.5 Q1337.0,84.5 1339.0,84.5 L1351.0,84.5 Q1353.0,84.5 1353.5,86.5 L1354.5,96.3 Z" stroke-width="0" fill="#000" />
<polygon points="1339.5,88.3 1349.5,88.3 1348.0,94.8 1340.0,94.4" stroke-width="0" fill="#fff" />
<rect x="1346.5" y="139.5" width="14.0" height="10.5" rx="0" stroke-width="0" fill="#000" />
<rect x="1349.0" y="149.0" width="9.0" height="6.5" rx="0" stroke-width="0" fill="#000" />
<rect x="1344.5" y="155.0" width="4.5" height="6.0" rx="0" stroke-width="0" fill="#000" />
<rect x="1358.0" y="155.0" width="4.5" height="6.0" rx="0" stroke-width="0" fill="#000" />
<line x1="1349.5" y1="142" x2="1349.5" y2="153" stroke="#fff" stroke-width="0.8"/>
<rect x="1369.0" y="146.5" width="6.5" height="15.0" rx="0" stroke-width="0" fill="#000" />
<line x1="1372.0" y1="148" x2="1372.0" y2="160" stroke="#fff" stroke-width="0.8"/>
<circle cx="1284.50" cy="119.20" r="16.60" stroke-width="0" fill="#fff" />
<circle cx="1281.50" cy="105.74" r="2.75" stroke-width="0" fill="#000" />
<circle cx="1289.07" cy="106.12" r="2.75" stroke-width="0" fill="#000" />
<circle cx="1275.44" cy="109.90" r="2.75" stroke-width="0" fill="#000" />
<circle cx="1285.28" cy="111.79" r="2.75" stroke-width="0" fill="#000" />
<circle cx="1294.74" cy="110.28" r="2.75" stroke-width="0" fill="#000" />
<circle cx="1272.41" cy="117.09" r="2.75" stroke-width="0" fill="#000" />
<circle cx="1278.85" cy="116.71" r="2.75" stroke-width="0" fill="#000" />
<circle cx="1285.28" cy="118.61" r="2.75" stroke-width="0" fill="#000" />
<circle cx="1291.71" cy="116.71" r="2.75" stroke-width="0" fill="#000" />
<circle cx="1298.15" cy="117.09" r="2.75" stroke-width="0" fill="#000" />
<circle cx="1273.17" cy="123.91" r="2.75" stroke-width="0" fill="#000" />
<circle cx="1281.50" cy="123.91" r="2.75" stroke-width="0" fill="#000" />
<circle cx="1289.07" cy="123.91" r="2.75" stroke-width="0" fill="#000" />
<circle cx="1297.01" cy="124.28" r="2.75" stroke-width="0" fill="#000" />
<circle cx="1278.09" cy="129.96" r="2.75" stroke-width="0" fill="#000" />
<circle cx="1285.28" cy="132.23" r="2.75" stroke-width="0" fill="#000" />
<circle cx="1292.47" cy="129.58" r="2.75" stroke-width="0" fill="#000" />
<circle cx="1285.28" cy="121.26" r="2.75" stroke-width="0" fill="#000" />
<circle cx="1365.30" cy="119.96" r="1.10" stroke-width="0" fill="#fff" />
<circle cx="1361.53" cy="127.05" r="1.10" stroke-width="0" fill="#fff" />
<circle cx="1354.31" cy="130.57" r="1.10" stroke-width="0" fill="#fff" />
<circle cx="1346.40" cy="129.18" r="1.10" stroke-width="0" fill="#fff" />
<circle cx="1340.82" cy="123.40" r="1.10" stroke-width="0" fill="#fff" />
<circle cx="1339.70" cy="115.44" r="1.10" stroke-width="0" fill="#fff" />
<circle cx="1343.47" cy="108.35" r="1.10" stroke-width="0" fill="#fff" />
<circle cx="1350.69" cy="104.83" r="1.10" stroke-width="0" fill="#fff" />
<circle cx="1358.60" cy="106.22" r="1.10" stroke-width="0" fill="#fff" />
<circle cx="1364.18" cy="112.00" r="1.10" stroke-width="0" fill="#fff" />
</svg></body></html>
